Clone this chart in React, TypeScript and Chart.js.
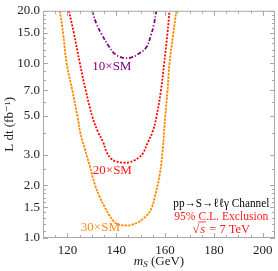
import React, { useEffect, useRef } from 'react';
import { Chart, registerables } from 'chart.js';

Chart.register(...registerables);

// 30×SM (orange)
const massOrange = [116.9, 118.2, 119.7, 122.0, 124.2, 125.3, 127.2, 129.2, 131.2, 133.2, 135.3, 137.0, 138.7, 140.0, 141.4, 143.8, 146.2, 148.9, 151.0, 153.0, 154.6, 155.7, 157.8, 159.1, 160.0, 161.0, 161.8, 163.4, 164.6];
const lumiOrange = [20, 15, 10, 7, 4.9, 4.0, 3.2, 2.57, 2.03, 1.72, 1.5, 1.36, 1.26, 1.21, 1.19, 1.18, 1.19, 1.23, 1.29, 1.37, 1.5, 1.7, 2.31, 3.3, 4.9, 7, 10, 15, 20];

// 20×SM (red)
const massRed = [120.6, 122.6, 125.1, 127.5, 130.3, 132.6, 134.6, 136.0, 138.0, 140.0, 143.0, 145.5, 147.6, 149.4, 150.9, 153.0, 154.8, 156.4, 158.3, 159.6, 161.0, 161.8];
const lumiRed = [20, 15, 10, 7, 4.9, 4.03, 3.55, 3.12, 2.84, 2.74, 2.70, 2.72, 2.79, 2.9, 3.05, 3.55, 4.03, 4.9, 7, 10, 15, 20];

// 10×SM (purple)
const massPurple = [130.1, 132.0, 134.0, 137.0, 139.4, 141.5, 143.5, 146.0, 149.0, 152.3, 154.2, 155.4, 156.4];
const lumiPurple = [20, 16.7, 14.68, 12.5, 11.33, 10.9, 10.72, 10.8, 11.3, 12.36, 14.5, 16.7, 20];

const xTickValues = [120, 140, 160, 180, 200];
const xMinorValues = [115, 125, 130, 135, 145, 150, 155, 165, 170, 175, 185, 190, 195];
const yTickValues = [1, 1.5, 2, 3, 5, 7, 10, 15, 20];
const yMinorValues = [1.1, 1.2, 1.3, 1.4, 1.6, 1.7, 1.8, 1.9, 2.5, 4, 6, 8, 9, 11, 12, 13, 14, 16, 17, 18, 19];

const curveLabels = [
  { text: '10×SM', x: 138.2, y: 9.6, color: '#800080' },
  { text: '20×SM', x: 138.4, y: 2.44, color: '#ff1a1a' },
  { text: '30×SM', x: 133.5, y: 1.15, color: '#ff8c1a' },
];

const infoLines = ['pp→S→ℓℓγ Channel', '95% C.L. Exclusion'];

const FONT = '"Liberation Serif", "DejaVu Serif", serif';

const toPoints = (xs: number[], ys: number[]) => xs.map((x, i) => ({ x, y: ys[i] }));

export default function App() {
  const ref = useRef<HTMLCanvasElement | null>(null);

  useEffect(() => {
    document.body.style.margin = '0';
    const canvas = ref.current;
    if (!canvas) return;

    const decor = {
      id: 'decor',
      afterDatasetsDraw(chart: any) {
        const { ctx, chartArea: a, scales } = chart;
        const xs = scales.x;
        const ys = scales.y;
        ctx.save();
        // frame
        ctx.strokeStyle = '#a8a8a8';
        ctx.lineWidth = 1;
        ctx.strokeRect(a.left + 0.5, a.top + 0.5, a.right - a.left - 1, a.bottom - a.top - 1);
        // ticks
        ctx.beginPath();
        const tickX = (v: number, len: number) => {
          const px = Math.round(xs.getPixelForValue(v)) + 0.5;
          ctx.moveTo(px, a.bottom);
          ctx.lineTo(px, a.bottom - len);
          ctx.moveTo(px, a.top);
          ctx.lineTo(px, a.top + len);
        };
        const tickY = (v: number, len: number) => {
          const py = Math.round(ys.getPixelForValue(v)) + 0.5;
          ctx.moveTo(a.left, py);
          ctx.lineTo(a.left + len, py);
          ctx.moveTo(a.right, py);
          ctx.lineTo(a.right - len, py);
        };
        xTickValues.forEach((v) => tickX(v, 5));
        xMinorValues.forEach((v) => tickX(v, 3));
        yTickValues.forEach((v) => tickY(v, 5));
        yMinorValues.forEach((v) => tickY(v, 3));
        ctx.stroke();

        // curve labels
        ctx.font = `13px ${FONT}`;
        ctx.textAlign = 'center';
        ctx.textBaseline = 'middle';
        curveLabels.forEach((l) => {
          ctx.fillStyle = l.color;
          ctx.fillText(l.text, xs.getPixelForValue(l.x), ys.getPixelForValue(l.y));
        });

        // info block
        const cx = xs.getPixelForValue(183.0);
        ctx.font = `12.5px ${FONT}`;
        ctx.fillStyle = '#000';
        ctx.fillText(infoLines[0], cx, ys.getPixelForValue(1.57), 96);
        ctx.fillStyle = '#ff1a1a';
        ctx.fillText(infoLines[1], cx, ys.getPixelForValue(1.33), 94);
        // sqrt(s) = 7 TeV
        const yS = ys.getPixelForValue(1.12);
        ctx.textAlign = 'left';
        const rad = '√';
        ctx.font = `12.5px ${FONT}`;
        const wRad = ctx.measureText(rad).width;
        ctx.font = `italic 12.5px ${FONT}`;
        const wS = ctx.measureText('s').width + 2;
        ctx.font = `12.5px ${FONT}`;
        const rest = ' = 7 TeV';
        const wRest = ctx.measureText(rest).width;
        const total = wRad + wS + wRest;
        let px = cx - total / 2;
        ctx.fillText(rad, px, yS);
        px += wRad;
        ctx.font = `italic 12.5px ${FONT}`;
        ctx.fillText('s', px + 1, yS);
        ctx.strokeStyle = '#ff1a1a';
        ctx.lineWidth = 0.8;
        ctx.beginPath();
        ctx.moveTo(px - 1, yS - 7.5);
        ctx.lineTo(px + wS, yS - 7.5);
        ctx.stroke();
        px += wS;
        ctx.font = `12.5px ${FONT}`;
        ctx.fillText(rest, px, yS);

        // x title: m_S (GeV)
        ctx.fillStyle = '#222';
        const xc = (a.left + a.right) / 2;
        const ty = 262;
        ctx.font = `italic 13px ${FONT}`;
        const wm = ctx.measureText('m').width;
        ctx.font = `italic 9px ${FONT}`;
        const wsub = ctx.measureText('S').width;
        ctx.font = `13px ${FONT}`;
        const wg = ctx.measureText(' (GeV)').width;
        let tx = xc - (wm + wsub + wg) / 2;
        ctx.font = `italic 13px ${FONT}`;
        ctx.fillText('m', tx, ty);
        tx += wm;
        ctx.font = `italic 9px ${FONT}`;
        ctx.fillText('S', tx, ty + 3);
        tx += wsub;
        ctx.font = `13px ${FONT}`;
        ctx.fillText(' (GeV)', tx, ty);

        // y title
        ctx.save();
        ctx.translate(10, (a.top + a.bottom) / 2);
        ctx.rotate(-Math.PI / 2);
        ctx.textAlign = 'center';
        ctx.font = `13px ${FONT}`;
        ctx.fillText('L dt (fb⁻¹)', 0, 0);
        ctx.restore();

        ctx.restore();
      },
    };

    const chart = new Chart(canvas, {
      type: 'line',
      data: {
        datasets: [
          {
            label: '10×SM',
            data: toPoints(massPurple, lumiPurple),
            borderColor: '#800080',
            borderWidth: 1.8,
            borderDash: [4, 2, 1.2, 2],
            pointRadius: 0,
            tension: 0.4,
            fill: false,
          },
          {
            label: '20×SM',
            data: toPoints(massRed, lumiRed),
            borderColor: '#ff0000',
            borderWidth: 1.8,
            borderDash: [2, 1.5],
            pointRadius: 0,
            tension: 0.4,
            fill: false,
          },
          {
            label: '30×SM',
            data: toPoints(massOrange, lumiOrange),
            borderColor: '#ff8c00',
            borderWidth: 1.8,
            borderDash: [2.5, 1],
            pointRadius: 0,
            tension: 0.4,
            fill: false,
          },
        ],
      },
      options: {
        responsive: false,
        animation: false,
        parsing: false as any,
        layout: { padding: { top: 6, right: 3, left: 0, bottom: 0 } },
        plugins: { legend: { display: false }, tooltip: { enabled: false } },
        scales: {
          x: {
            type: 'linear',
            min: 110,
            max: 205,
            grid: { display: false, drawTicks: false },
            border: { display: false },
            afterBuildTicks: (s: any) => {
              s.ticks = xTickValues.map((v) => ({ value: v }));
            },
            afterFit: (s: any) => {
              s.height = 33;
            },
            ticks: {
              autoSkip: false,
              maxRotation: 0,
              padding: 5,
              color: '#222',
              font: { family: FONT, size: 13 },
              callback: (v: any) => String(v),
            },
          },
          y: {
            type: 'logarithmic',
            min: 1,
            max: 20,
            grid: { display: false, drawTicks: false },
            border: { display: false },
            afterBuildTicks: (s: any) => {
              s.ticks = yTickValues.map((v) => ({ value: v }));
            },
            afterFit: (s: any) => {
              s.width = 43;
            },
            ticks: {
              autoSkip: false,
              padding: 3,
              color: '#222',
              font: { family: FONT, size: 13 },
              callback: (v: any) => Number(v).toFixed(1),
            },
          },
        },
      },
      plugins: [decor],
    });
    return () => chart.destroy();
  }, []);

  return (
    <div style={{ width: 278, height: 271, background: '#fff' }}>
      <canvas ref={ref} width={278} height={271} style={{ display: 'block', width: 278, height: 271 }} />
    </div>
  );
}
